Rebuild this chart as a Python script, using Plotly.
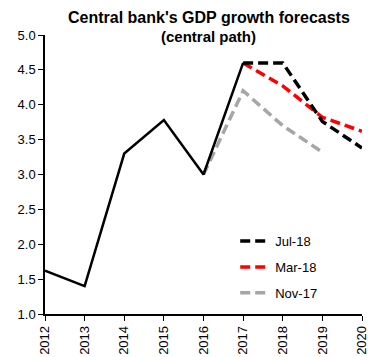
import plotly.graph_objects as go

years_actual = [2012, 2013, 2014, 2015, 2016, 2017]
gdp_actual = [1.62, 1.4, 3.3, 3.78, 3.0, 4.6]

years_jul18 = [2017, 2018, 2019, 2020]
jul18 = [4.6, 4.6, 3.76, 3.38]

years_mar18 = [2017, 2018, 2019, 2020]
mar18 = [4.6, 4.27, 3.82, 3.62]

years_nov17 = [2016, 2017, 2018, 2019]
nov17 = [3.0, 4.2, 3.7, 3.32]

tick_years = [2012, 2013, 2014, 2015, 2016, 2017, 2018, 2019, 2020]
y_ticks = [1.0, 1.5, 2.0, 2.5, 3.0, 3.5, 4.0, 4.5, 5.0]

DASH = "10px,5px"

fig = go.Figure()
fig.add_trace(go.Scatter(x=years_nov17, y=nov17, mode="lines", name="Nov-17", legendgroup="c",
                         legendrank=3, line=dict(color="#a6a6a6", width=3.5, dash=DASH)))
fig.add_trace(go.Scatter(x=years_mar18, y=mar18, mode="lines", name="Mar-18", legendgroup="b",
                         legendrank=2, line=dict(color="#ff0000", width=3.5, dash=DASH)))
fig.add_trace(go.Scatter(x=years_jul18, y=jul18, mode="lines", name="Jul-18", legendgroup="a",
                         legendrank=1, line=dict(color="#000000", width=3.5, dash=DASH)))
fig.add_trace(go.Scatter(x=years_actual, y=gdp_actual, mode="lines", name="Actual",
                         showlegend=False, line=dict(color="#000000", width=2.5)))

# title lines (pixel y ~18 and ~36 from top; plot top at 35, height 279)
fig.add_annotation(text="<b>Central bank's GDP growth forecasts</b>",
                   xref="paper", yref="paper", x=0.517, y=1 + 17 / 279, xanchor="center", yanchor="middle",
                   showarrow=False, font=dict(size=16, color="black"))
fig.add_annotation(text="<b>(central path)</b>",
                   xref="paper", yref="paper", x=0.517, y=1 - 1 / 279, xanchor="center", yanchor="middle",
                   showarrow=False, font=dict(size=15, color="black"))

fig.update_layout(
    width=368, height=357,
    margin=dict(l=45, r=6, t=35, b=43, autoexpand=False),
    plot_bgcolor="white", paper_bgcolor="white",
    font=dict(family="Liberation Sans, Arial", size=13, color="black"),
    showlegend=True,
    legend=dict(x=0.6, y=0.315, xanchor="left", yanchor="top",
                traceorder="grouped", bgcolor="rgba(0,0,0,0)",
                font=dict(size=13), tracegroupgap=6),
    xaxis=dict(range=[2012, 2020], tickvals=tick_years, ticktext=[str(t) for t in tick_years],
               tickangle=-90, showgrid=False, zeroline=False, showline=True, automargin=False,
               ticklabeloverflow="allow",
               linecolor="black", linewidth=1.5, ticks="outside", ticklen=5,
               tickcolor="black", tickfont=dict(size=13)),
    yaxis=dict(range=[1, 5], tickvals=y_ticks, tickformat=".1f", showgrid=False, automargin=False,
               zeroline=False, showline=True, linecolor="black", linewidth=1.5,
               ticks="outside", ticklen=5, tickcolor="black", tickfont=dict(size=13)),
)

fig.write_html("out.html", config={"displayModeBar": False},
               post_script="document.body.style.margin='0';document.body.style.overflow='hidden';")
